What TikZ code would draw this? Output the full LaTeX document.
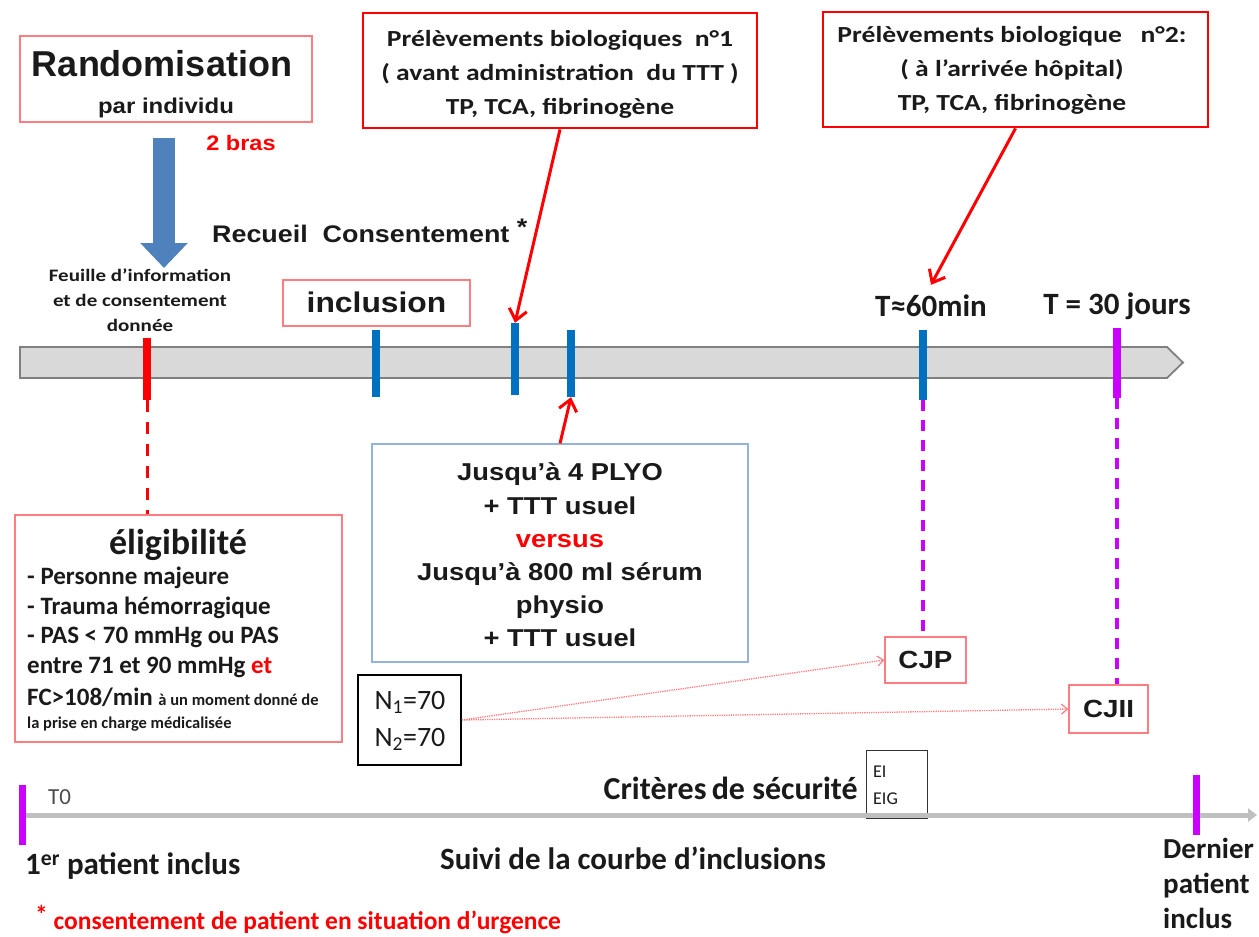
\documentclass[tikz,border=0pt]{standalone}
\usepackage{fontspec}
\setmainfont{Liberation Sans}
\newfontfamily\arw[FakeStretch=1.12]{Liberation Sans}
\newfontfamily\cbx[FakeStretch=1.2]{Carlito}
\newfontfamily\cbn{Carlito}
\usetikzlibrary{arrows.meta}
\definecolor{pinkb}{HTML}{FF7C80}
\definecolor{blueb}{HTML}{95B3D7}
\definecolor{tickblue}{HTML}{0070C0}
\definecolor{purp}{HTML}{CC00FF}
\definecolor{arrowblue}{HTML}{4F81BD}
\definecolor{barfill}{HTML}{D9D9D9}
\definecolor{barline}{HTML}{808080}
\definecolor{lineg}{HTML}{BFBFBF}
\definecolor{txt}{HTML}{1A1A1A}
\newcommand\fsz[2]{\fontsize{#1}{#2}\selectfont}
\tikzset{
  pinkbox/.style={draw=pinkb, line width=1.3pt, inner sep=0pt},
  redbox/.style={draw=red, line width=2.8pt, inner sep=0pt},
  bluebox/.style={draw=blueb, line width=1.3pt, inner sep=0pt},
  blackbox/.style={draw=black, line width=1.6pt, inner sep=0pt},
  thinbox/.style={draw=black!80, line width=1pt, inner sep=0pt},
  lbl/.style={inner sep=0pt, text=txt},
  tickmark/.style={inner sep=0pt, minimum width=8pt},
  redarrow/.style={draw=red, line width=3pt, -{Straight Barb[length=11pt,width=18pt,line width=3pt]}},
  dotarrow/.style={draw=pinkb, line width=1.3pt, densely dotted, -{Straight Barb[length=6pt,width=10pt,line width=1.2pt]}},
  purpdash/.style={draw=purp, line width=3.5pt, dash pattern=on 11pt off 9pt},
  reddash/.style={draw=red, line width=3pt, dash pattern=on 12pt off 10pt},
}
\begin{document}
\begin{tikzpicture}[x=1pt,y=-1pt]
\useasboundingbox (0,0) rectangle (1259,937);

% --- top boxes
\node[pinkbox, minimum width=292pt, minimum height=86pt] (rand) at (166,79) {};
\node[lbl, font=\fsz{36}{40}\bfseries] (randt) at (162,64) {Randomisation};
\node[lbl, font=\arw\fsz{21.4}{24}\bfseries] (randp) at (166,108) {par individu};
\node[lbl, text=red, font=\arw\fsz{21}{24}\bfseries] (bras) at (241,143) {2 bras};

\node[redbox, minimum width=394pt, minimum height=115pt] (p1) at (560,70.5) {};
\node[lbl, align=center, font=\cbx\fsz{23}{34}\bfseries] (p1t) at (560,74) {Prélèvements biologiques\ \ n°1\\ ( avant administration\ \ du TTT )\\ TP, TCA, fibrinogène};

\node[redbox, minimum width=385pt, minimum height=115pt] (p2) at (1015.5,69.5) {};
\node[lbl, align=center, font=\cbx\fsz{23}{34}\bfseries] (p2t) at (1012,70) {Prélèvements biologique\ \ \ n°2:\\ ( à l’arrivée hôpital)\\ TP, TCA, fibrinogène};

% --- blue arrow
\coordinate (ba1) at (164,138);
\coordinate (ba2) at (164,268);
\draw[arrowblue, line width=22pt, -{Triangle[width=46pt,length=25pt]}] (ba1) -- (ba2);

\node[lbl, align=center, font=\cbx\fsz{17.5}{25}\bfseries] (feuille) at (140,300) {Feuille d’information\\ et de consentement\\ donnée};
\node[lbl, anchor=west, font=\arw\fsz{24}{28}\bfseries] (recueil) at (212,231) {Recueil\ \ Consentement \raisebox{7pt}{*}};

\node[pinkbox, minimum width=187pt, minimum height=46pt] (incl) at (376.5,303) {};
\node[lbl, font=\arw\fsz{28.4}{30}\bfseries] (inclt) at (376.5,302) {inclusion};

\node[lbl, font=\cbn\fsz{31}{34}\bfseries] (t60) at (931,306) {T≈60min};
\node[lbl, font=\cbn\fsz{31}{34}\bfseries] (t30) at (1117,306) {T = 30 jours};

% --- timeline bar
\coordinate (tb0) at (20,347);
\draw[fill=barfill, draw=barline, line width=1.8pt] (tb0) -- (1167,347) -- (1183,362.5) -- (1167,378) -- (20,378) -- cycle;

% --- ticks
\node[tickmark, fill=red, minimum height=62pt] (k1) at (147,369) {};
\node[tickmark, fill=tickblue, minimum height=67pt] (k2) at (376,363.5) {};
\node[tickmark, fill=tickblue, minimum height=72pt] (k3) at (515,359) {};
\node[tickmark, fill=tickblue, minimum height=67pt] (k4) at (571,363.5) {};
\node[tickmark, fill=tickblue, minimum height=70pt] (k5) at (923,365) {};
\node[tickmark, fill=purp, minimum height=70pt] (k6) at (1117,363) {};

% --- eligibility box
\node[pinkbox, minimum width=327pt, minimum height=227pt] (elig) at (178.5,628.5) {};
\node[lbl, font=\cbn\fsz{36}{38}\bfseries] (eligt) at (178,545) {éligibilité};
\node[lbl, anchor=west, font=\cbn\fsz{25}{28}\bfseries] (e1) at (27,578) {- Personne majeure};
\node[lbl, anchor=west, font=\cbn\fsz{25}{28}\bfseries] (e2) at (27,608) {- Trauma hémorragique};
\node[lbl, anchor=west, font=\cbn\fsz{25}{28}\bfseries] (e3) at (27,637) {- PAS < 70 mmHg ou PAS};
\node[lbl, anchor=west, font=\cbn\fsz{25}{28}\bfseries] (e4) at (27,667) {entre 71 et 90 mmHg \textcolor{red}{et}};
\node[lbl, anchor=base west, font=\cbn\fsz{25}{28}\bfseries] (e5) at (27,705) {FC>108/min {\fsz{16.5}{18}à un moment donné de}};
\node[lbl, anchor=base west, font=\cbn\fsz{16.5}{18}\bfseries] (e6) at (27,728) {la prise en charge médicalisée};

% --- treatment box
\node[bluebox, minimum width=376pt, minimum height=218pt] (vbox) at (560,553) {};
\node[lbl, align=center, font=\arw\fsz{24.4}{33.2}\bfseries] (vt) at (560,555) {Jusqu’à 4 PLYO\\ + TTT usuel\\ \textcolor{red}{versus}\\ Jusqu’à 800 ml sérum\\ physio\\ + TTT usuel};

% --- N box, CJP, CJII
\node[blackbox, minimum width=103pt, minimum height=90pt] (nbox) at (409.5,720) {};
\node[lbl, align=left, font=\cbn\fsz{28}{37}] (nt) at (410,721) {N\textsubscript{1}=70\\ N\textsubscript{2}=70};
\node[pinkbox, minimum width=81pt, minimum height=46pt, font=\arw\fsz{24.8}{26}\bfseries, text=txt] (cjp) at (925.5,660) {CJP};
\node[pinkbox, minimum width=79pt, minimum height=48pt, font=\arw\fsz{24.8}{26}\bfseries, text=txt] (cjii) at (1108.5,709) {CJII};

% --- security
\node[lbl, anchor=east, font=\cbn\fsz{32}{34}\bfseries] (crit) at (858,788) {Critères\hspace{-2pt} de sécurité};
\node[thinbox, minimum width=61pt, minimum height=68pt] (ei) at (896.5,784) {};
\node[lbl, align=left, anchor=west, font=\cbn\fsz{18}{27}] (eit) at (873,785) {EI\\ EIG};

% --- bottom timeline
\coordinate (bt0) at (22,815);
\coordinate (bt1) at (1257,815);
\draw[lineg, line width=5pt, -{Triangle[width=13pt,length=9pt]}] (bt0) -- (bt1);
\node[tickmark, fill=purp, minimum width=7pt, minimum height=60pt] (b1) at (22,815) {};
\node[tickmark, fill=purp, minimum width=7pt, minimum height=60pt] (b2) at (1196,805) {};
\node[lbl, anchor=west, text=black!70, font=\cbn\fsz{23}{25}] (t0) at (48,797) {T0};
\node[lbl, anchor=west, font=\cbn\fsz{31}{34}\bfseries] (first) at (25,866) {1\textsuperscript{er} patient inclus};
\node[lbl, font=\cbn\fsz{31}{34}\bfseries] (suivi) at (633,858) {Suivi de la courbe d’inclusions};
\node[lbl, anchor=west, align=left, font=\cbn\fsz{29}{35}\bfseries] (last) at (1163,883) {Dernier\\ patient\\ inclus};
\node[lbl, anchor=west, text=red, font=\cbn\fsz{25.5}{28}\bfseries] (foot) at (35,920) {\raisebox{6pt}{*} consentement de patient en situation d’urgence};

% --- connectors
\draw[redarrow] (p1.south) -- (k3.north);
\draw[redarrow] (p2.south) -- ([yshift=10pt]t60.north);
\draw[redarrow] (vbox.north) -- (k4.south);
\draw[reddash] (k1.south) -- (k1.south |- elig.north);
\draw[purpdash] (k5.south) -- (k5.south |- cjp.north);
\draw[purpdash] (k6.south) -- (k6.south |- cjii.north);
\draw[dotarrow] (nbox.east) -- (cjp.west);
\draw[dotarrow] (nbox.east) -- (cjii.west);
\end{tikzpicture}
\end{document}
